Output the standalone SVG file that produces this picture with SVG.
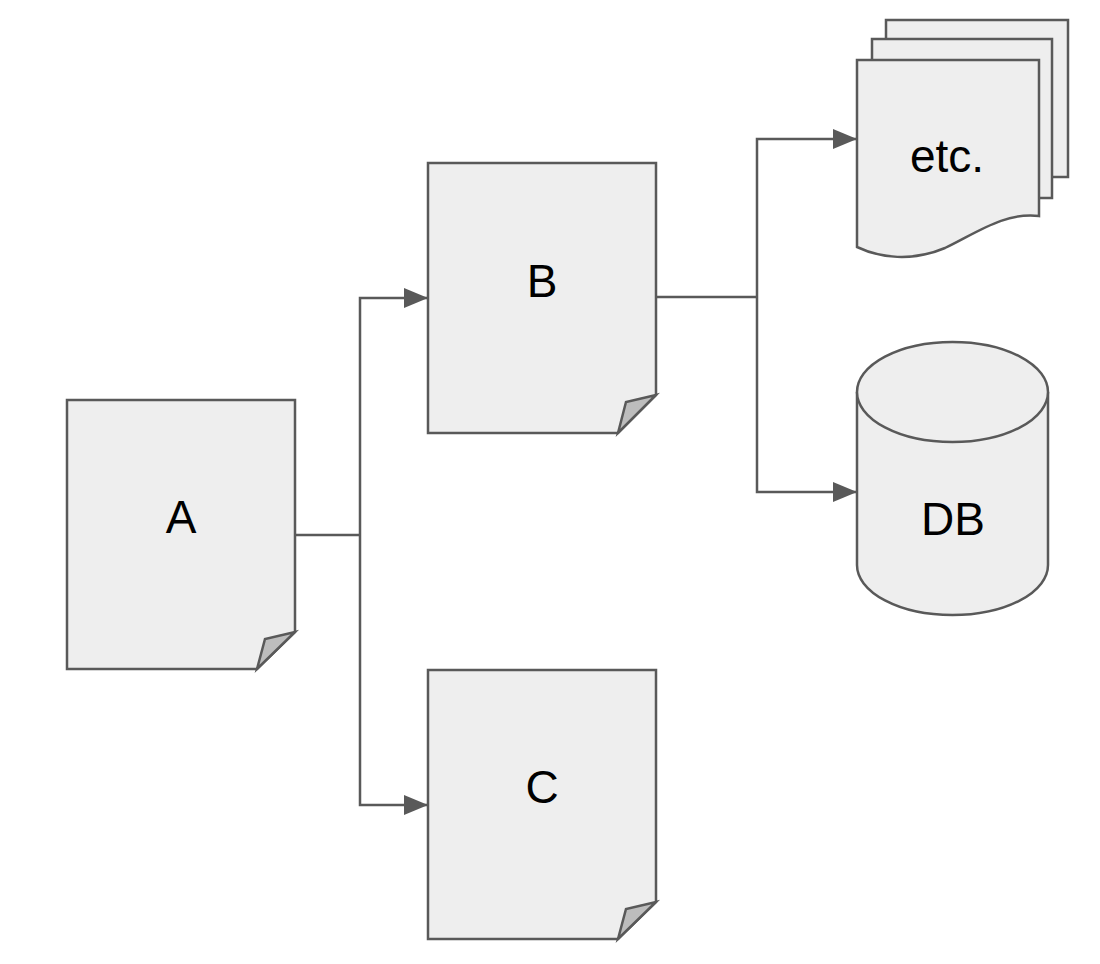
<svg xmlns="http://www.w3.org/2000/svg" width="1100" height="964" viewBox="0 0 1100 964">
<defs>
<style>
.shape{fill:#eeeeee;stroke:#595959;stroke-width:2.5;stroke-linejoin:miter}
.fold{fill:#bdbdbd;stroke:#595959;stroke-width:2.5;stroke-linejoin:miter}
.conn{fill:none;stroke:#595959;stroke-width:2.5}
.lbl{font-family:"Liberation Sans",Arial,sans-serif;font-size:46px;fill:#000;text-anchor:middle}
</style>
<marker id="arr" markerUnits="userSpaceOnUse" markerWidth="24" markerHeight="20" refX="24" refY="10" orient="auto">
<path d="M0,0 L24,10 L0,20 Z" fill="#595959"/>
</marker>
</defs>
<rect width="1100" height="964" fill="#ffffff"/>
<g id="connectors">
<path class="conn" d="M295,535 H360"/>
<path class="conn" d="M360,535 V298 H428" marker-end="url(#arr)"/>
<path class="conn" d="M360,535 V805 H428" marker-end="url(#arr)"/>
<path class="conn" d="M656,297 H757"/>
<path class="conn" d="M757,297 V139 H857" marker-end="url(#arr)"/>
<path class="conn" d="M757,297 V492 H857" marker-end="url(#arr)"/>
</g>
<g id="node-A">
<path class="shape" d="M67,400 H295 V632 L257,669 H67 Z"/>
<path class="fold" d="M257,669 L265,639 L295,632 Z"/>
<text class="lbl" x="181" y="533">A</text>
</g>
<g id="node-B">
<path class="shape" d="M428,163 H656 V395 L618,433 H428 Z"/>
<path class="fold" d="M618,433 L626,402 L656,395 Z"/>
<text class="lbl" x="542" y="297">B</text>
</g>
<g id="node-C">
<path class="shape" d="M428,670 H656 V902 L618,939 H428 Z"/>
<path class="fold" d="M618,939 L626,909 L656,902 Z"/>
<text class="lbl" x="542" y="803">C</text>
</g>
<g id="node-etc">
<rect class="shape" x="886" y="20" width="182" height="157"/>
<rect class="shape" x="872" y="39" width="180" height="159"/>
<path class="shape" d="M857,60 H1039 V216 C1005,212 978,232 945,248 C912,262 880,258 857,247 Z"/>
<text class="lbl" x="947" y="172">etc.</text>
</g>
<g id="node-DB">
<path class="shape" d="M857,392 A95.5,50 0 0 1 1048,392 V565 A95.5,50 0 0 1 857,565 Z"/>
<path class="shape" d="M857,392 A95.5,50 0 0 0 1048,392" fill="none"/>
<text class="lbl" x="953" y="535">DB</text>
</g>
</svg>
